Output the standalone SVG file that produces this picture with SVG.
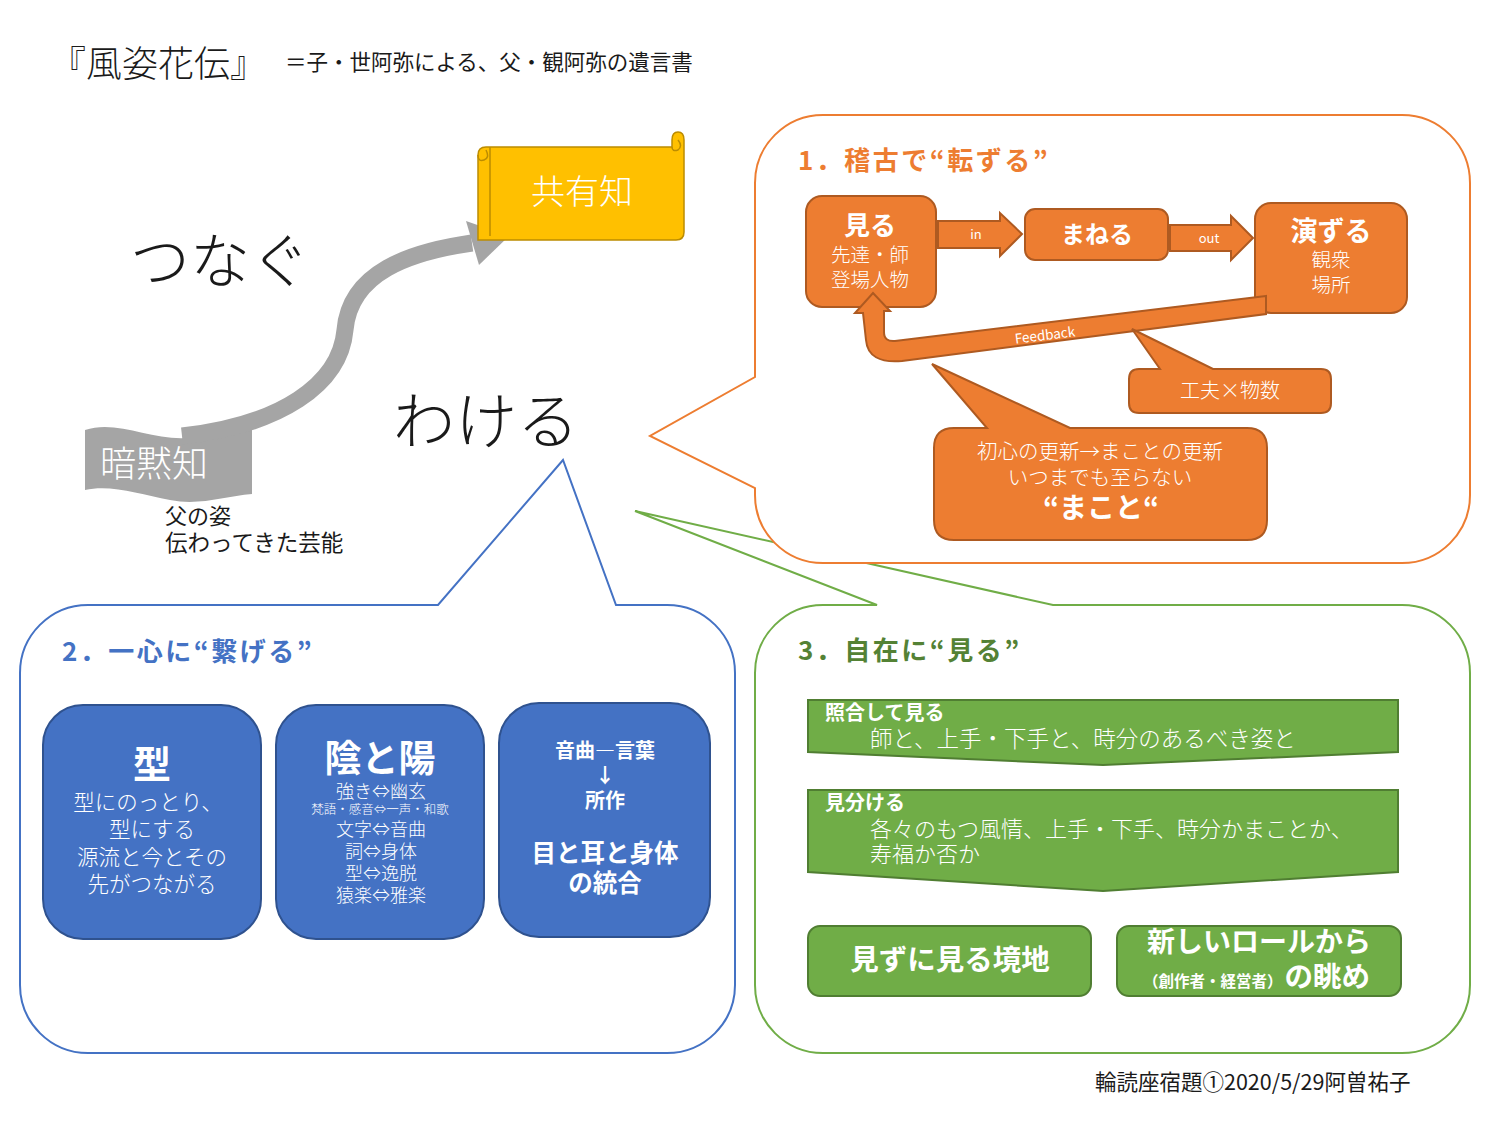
<svg xmlns="http://www.w3.org/2000/svg" width="1500" height="1126" viewBox="0 0 1500 1126">
<style>
text{font-family:"Noto Sans CJK JP","Noto Sans",sans-serif;}
.lt{font-weight:300;}
.b{font-weight:700;}
.w{fill:#ffffff;}
.k{fill:#1a1a1a;}
.mid{text-anchor:middle;}
.ob{fill:#ED7D31;stroke:#AE5A21;stroke-width:2;}
.bb{fill:#4472C4;stroke:#2F528F;stroke-width:2;}
.gb{fill:#70AD47;stroke:#507E32;stroke-width:2;}
</style>
<rect width="1500" height="1126" fill="#ffffff"/>

<g id="title">
<text x="50" y="77" font-size="36" class="lt k">『風姿花伝』</text>
<text x="285" y="70" font-size="21.5" class="k">＝子・世阿弥による、父・観阿弥の遺言書</text>
</g>

<g id="callout-green">
<path d="M823,605 L877,605 L635,511 L1053,605 L1402,605 A68,68 0 0 1 1470,673 L1470,985 A68,68 0 0 1 1402,1053 L823,1053 A68,68 0 0 1 755,985 L755,673 A68,68 0 0 1 823,605 Z" fill="#ffffff" stroke="#70AD47" stroke-width="2"/>
<text x="798" y="660" font-size="26" class="b" fill="#548235" letter-spacing="2.5">3．自在に“見る”</text>
</g>
<g id="callout-blue">
<path d="M88,605 L438,605 L563,460 L616,605 L667,605 A68,68 0 0 1 735,673 L735,985 A68,68 0 0 1 667,1053 L88,1053 A68,68 0 0 1 20,985 L20,673 A68,68 0 0 1 88,605 Z" fill="#ffffff" stroke="#4472C4" stroke-width="2"/>
<text x="62" y="661" font-size="26" class="b" fill="#4472C4" letter-spacing="2.5">2．一心に“繋げる”</text>
</g>
<g id="callout-orange">
<path d="M823,115 L1402,115 A68,68 0 0 1 1470,183 L1470,495 A68,68 0 0 1 1402,563 L823,563 A68,68 0 0 1 755,495 L755,488 L650,436 L755,377 L755,183 A68,68 0 0 1 823,115 Z" fill="#ffffff" stroke="#ED7D31" stroke-width="2"/>
<text x="798" y="170" font-size="26" class="b" fill="#ED7D31" letter-spacing="2.5">1．稽古で“転ずる”</text>
</g>

<g id="anmokuchi">
<path d="M85,430 C120,418 160,446 200,436 C225,430 240,424 252,422 L252,494 C225,496 200,506 170,500 C140,494 110,484 85,490 Z" fill="#A5A5A5"/>
<text x="100" y="477" font-size="36" class="lt w">暗黙知</text>
<text x="165" y="524" font-size="22" class="k">父の姿</text>
<text x="165" y="551" font-size="22.5" class="k">伝わってきた芸能</text>
</g>

<g id="connectors">
<path d="M182,436 C280,425 340,385 345,330 C350,272 410,252 472,243" fill="none" stroke="#A5A5A5" stroke-width="17"/>
<polygon points="466,221 509,236 479,265" fill="#A5A5A5"/>
</g>

<g id="kyouyuchi">
<path d="M478,240 L478,155 Q478,147 486,147 L672,147 L672,140 Q672,132 678,132 Q684,132 684,140 L684,232 Q684,240 676,240 Z" fill="#FFC000" stroke="#BC8C00" stroke-width="1.5"/>
<path d="M490,147 L490,236 M478,155 Q478,162 484,160 Q490,158 486,150 M672,147 Q672,152 678,150 Q683,146 678,140" fill="none" stroke="#BC8C00" stroke-width="1.5"/>
<text x="582" y="204" font-size="34" class="lt w mid">共有知</text>
</g>

<g id="tsunagu"><text x="130" y="283" font-size="60" class="lt k">つなぐ</text></g>
<g id="wakeru"><text x="393" y="444" font-size="62" class="lt k">わける</text></g>

<g id="miru">
<rect x="806" y="196" width="130" height="111" rx="16" class="ob"/>
<text x="870" y="235" font-size="26" class="b w mid">見る</text>
<text x="870" y="262" font-size="19.5" class="lt w mid">先達・師</text>
<text x="870" y="287" font-size="19.5" class="lt w mid">登場人物</text>
</g>
<g id="arrow-in">
<path d="M938,221 L1000,221 L1000,213 L1022,234 L1000,256 L1000,248 L938,248 Z" class="ob" stroke-width="1.5"/>
<text x="976" y="239" font-size="13" class="w mid">in</text>
</g>
<g id="maneru">
<rect x="1025" y="209" width="143" height="51" rx="10" class="ob"/>
<text x="1097" y="243" font-size="24" class="b w mid">まねる</text>
</g>
<g id="arrow-out">
<path d="M1170,225 L1231,225 L1231,216 L1253,238 L1231,260 L1231,251 L1170,251 Z" class="ob" stroke-width="1.5"/>
<text x="1209" y="243" font-size="13" class="w mid">out</text>
</g>
<g id="enzuru">
<rect x="1255" y="203" width="152" height="110" rx="16" class="ob"/>
<text x="1331" y="241" font-size="27" class="b w mid">演ずる</text>
<text x="1331" y="267" font-size="19.5" class="lt w mid">観衆</text>
<text x="1331" y="292" font-size="19.5" class="lt w mid">場所</text>
</g>
<g id="feedback">
<path d="M1266,296 L895,341 Q884,342 884,332 L884,311 L890,311 L873,293 L855,313 L863,313 L866,340 Q868,364 902,361 L1266,314 Z" class="ob" stroke-width="1.5"/>
<text x="1045" y="340" font-size="13.5" class="w mid" transform="rotate(-7 1045 336)">Feedback</text>
</g>
<g id="kufu">
<path d="M1139,369 L1160,369 L1132,329 L1213,369 L1321,369 Q1331,369 1331,379 L1331,403 Q1331,413 1321,413 L1139,413 Q1129,413 1129,403 L1129,379 Q1129,369 1139,369 Z" class="ob"/>
<text x="1230" y="398" font-size="20" class="lt w mid">工夫×物数</text>
</g>
<g id="makoto">
<path d="M954,428 L987,428 L932,364 L1070,428 L1247,428 Q1267,428 1267,448 L1267,520 Q1267,540 1247,540 L954,540 Q934,540 934,520 L934,448 Q934,428 954,428 Z" class="ob"/>
<text x="1100" y="459" font-size="20.5" class="lt w mid">初心の更新→まことの更新</text>
<text x="1100" y="485" font-size="20.5" class="lt w mid">いつまでも至らない</text>
<text x="1101" y="518" font-size="28" class="b w mid">“まこと“</text>
</g>

<g id="kata">
<rect x="43" y="705" width="218" height="234" rx="40" class="bb"/>
<text x="152" y="778" font-size="38" class="b w mid">型</text>
<text x="148" y="810" font-size="21.5" class="lt w mid">型にのっとり、</text>
<text x="152" y="837" font-size="21.5" class="lt w mid">型にする</text>
<text x="152" y="865" font-size="21.5" class="lt w mid">源流と今とその</text>
<text x="152" y="892" font-size="21.5" class="lt w mid">先がつながる</text>
</g>
<g id="inyo">
<rect x="276" y="705" width="208" height="234" rx="40" class="bb"/>
<text x="380" y="772" font-size="37" class="b w mid">陰と陽</text>
<text x="381" y="798" font-size="18" class="lt w mid">強き⇔幽玄</text>
<text x="380" y="814" font-size="12.5" class="lt w mid">梵語・感音⇔一声・和歌</text>
<text x="381" y="836" font-size="18" class="lt w mid">文字⇔音曲</text>
<text x="381" y="858" font-size="18" class="lt w mid">詞⇔身体</text>
<text x="381" y="880" font-size="18" class="lt w mid">型⇔逸脱</text>
<text x="381" y="902" font-size="18" class="lt w mid">猿楽⇔雅楽</text>
</g>
<g id="ongyoku">
<rect x="499" y="703" width="211" height="234" rx="40" class="bb"/>
<text x="605" y="758" font-size="20" class="b w mid">音曲―言葉</text>
<text x="605" y="783" font-size="20" class="b w mid">↓</text>
<text x="605" y="808" font-size="20" class="b w mid">所作</text>
<text x="605" y="862" font-size="24.5" class="b w mid">目と耳と身体</text>
<text x="605" y="892" font-size="24.5" class="b w mid">の統合</text>
</g>

<g id="shougou">
<path d="M808,700 L1398,700 L1398,752 L1103,765 L808,752 Z" class="gb"/>
<text x="825" y="720" font-size="20" class="b w">照合して見る</text>
<text x="870" y="747" font-size="22.5" class="lt w">師と、上手・下手と、時分のあるべき姿と</text>
</g>
<g id="miwakeru">
<path d="M808,790 L1398,790 L1398,872 L1103,891 L808,872 Z" class="gb"/>
<text x="825" y="810" font-size="20" class="b w">見分ける</text>
<text x="870" y="837" font-size="22" class="lt w">各々のもつ風情、上手・下手、時分かまことか、</text>
<text x="870" y="862" font-size="22" class="lt w">寿福か否か</text>
</g>
<g id="mizuni">
<rect x="808" y="926" width="283" height="70" rx="12" class="gb"/>
<text x="950" y="970" font-size="28.5" class="b w mid">見ずに見る境地</text>
</g>
<g id="atarashii">
<rect x="1117" y="926" width="284" height="70" rx="12" class="gb"/>
<text x="1259" y="952" font-size="28" class="b w mid">新しいロールから</text>
<text x="1143" y="987" font-size="15.5" class="b w">（創作者・経営者）<tspan font-size="28.5" dx="2">の眺め</tspan></text>
</g>

<g id="credit">
<text x="1095" y="1090" font-size="21.5" class="k">輪読座宿題①2020/5/29阿曽祐子</text>
</g>
</svg>
